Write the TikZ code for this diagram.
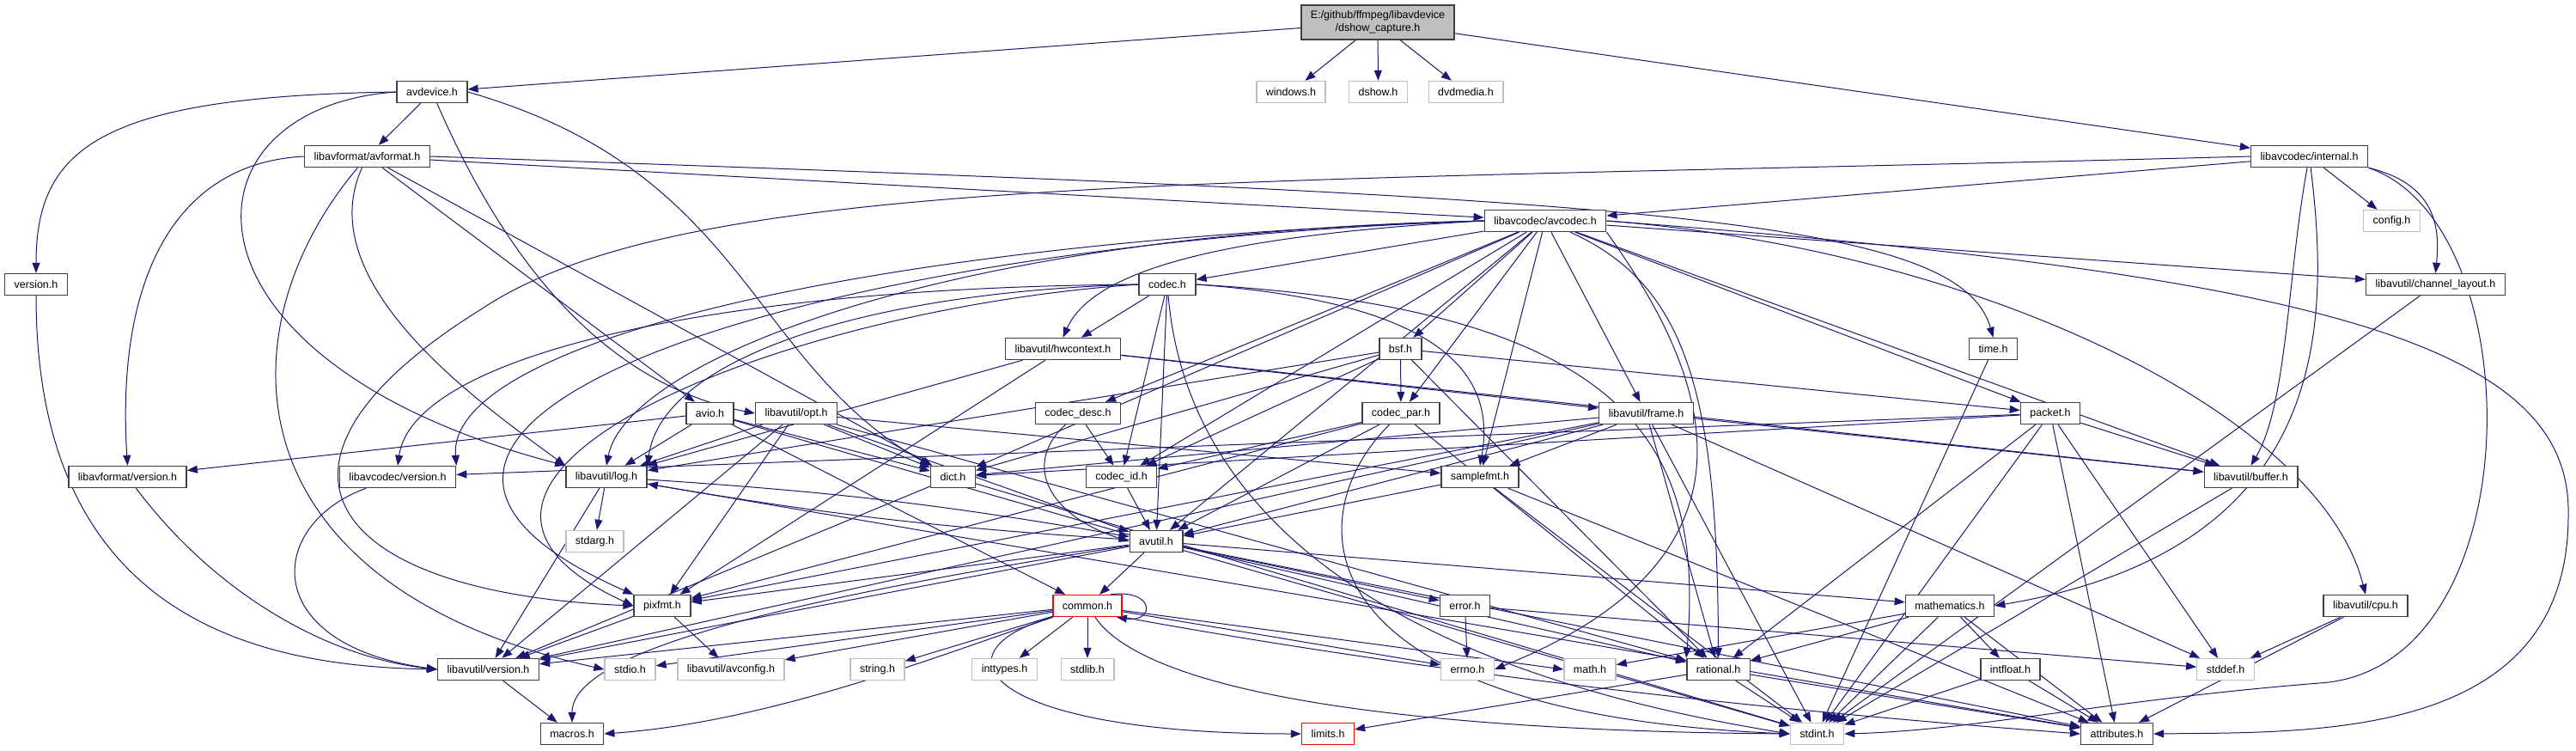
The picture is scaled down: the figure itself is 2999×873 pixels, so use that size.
\documentclass[tikz,border=0pt]{standalone}
\usepackage{fontspec}
\setmainfont{Liberation Sans}
\usetikzlibrary{arrows.meta,backgrounds}

\definecolor{enlace}{RGB}{25,25,112}
\definecolor{borde}{RGB}{64,64,64}
\definecolor{externo}{RGB}{191,191,191}

\tikzset{
    arch/.style={draw=borde, line width=1.4pt, fill=white, minimum height=25pt,
        inner xsep=11pt, inner ysep=1pt, font=\fontsize{12.5}{15}\selectfont},
    ext/.style={arch, draw=externo},
    trunc/.style={arch, draw=red},
    inc/.style={->, draw=enlace, line width=1pt},
    >={Triangle[length=12pt,width=9pt]}
}

\begin{document}
\begin{tikzpicture}[x=1pt,y=-1pt]
        \useasboundingbox (0,0) rectangle (2999,873);

        % Archivo de partida
        \node[arch, fill=externo, align=center, minimum height=40pt] (root) at (1604,26)
            {E:/github/ffmpeg/libavdevice\\/dshow\_capture.h};

        % Nivel 1 y 2
        \node[arch] (avdevice) at (503,107) {avdevice.h};
        \node[ext] (windows) at (1503,107) {windows.h};
        \node[ext] (dshow) at (1604.5,107) {dshow.h};
        \node[ext] (dvdmedia) at (1706.5,107) {dvdmedia.h};
        \node[arch] (avformat) at (427.5,182) {libavformat/avformat.h};
        \node[arch] (internal) at (2688.5,182) {libavcodec/internal.h};
        \node[arch] (avcodec) at (1799,257) {libavcodec/avcodec.h};
        \node[ext] (config) at (2784.5,257) {config.h};

        % Niveles intermedios
        \node[arch] (version) at (42,331) {version.h};
        \node[arch] (codec) at (1359,331) {codec.h};
        \node[arch] (chlayout) at (2835.5,331) {libavutil/channel\_layout.h};
        \node[arch] (hwcontext) at (1237.5,406) {libavutil/hwcontext.h};
        \node[arch] (bsf) at (1630.5,406) {bsf.h};
        \node[arch] (time) at (2320.5,406) {time.h};
        \node[arch] (avio) at (826.5,481) {avio.h};
        \node[arch] (opt) at (927,481) {libavutil/opt.h};
        \node[arch] (codecdesc) at (1255,481) {codec\_desc.h};
        \node[arch] (codecpar) at (1631,481) {codec\_par.h};
        \node[arch] (frame) at (1916.5,481) {libavutil/frame.h};
        \node[arch] (packet) at (2387,481) {packet.h};
        \node[arch] (lavfver) at (148.5,555) {libavformat/version.h};
        \node[arch] (lavcver) at (463,555) {libavcodec/version.h};
        \node[arch] (log) at (706,555) {libavutil/log.h};
        \node[arch] (dict) at (1109.5,555) {dict.h};
        \node[arch] (codecid) at (1305.5,555) {codec\_id.h};
        \node[arch] (samplefmt) at (1723,555) {samplefmt.h};
        \node[arch] (buffer) at (2620.5,555) {libavutil/buffer.h};
        \node[ext] (stdarg) at (692.5,630) {stdarg.h};
        \node[arch] (avutil) at (1346,630) {avutil.h};
        \node[arch] (pixfmt) at (771,705) {pixfmt.h};
        \node[trunc] (common) at (1266,705) {common.h};
        \node[arch] (error) at (1705.5,705) {error.h};
        \node[arch] (mathem) at (2270,705) {mathematics.h};
        \node[arch] (cpu) at (2754,705) {libavutil/cpu.h};

        % Niveles inferiores
        \node[arch] (lavuver) at (568.5,779) {libavutil/version.h};
        \node[ext] (stdio) at (733.5,779) {stdio.h};
        \node[ext] (avconfig) at (851,779) {libavutil/avconfig.h};
        \node[ext] (string) at (1021.5,779) {string.h};
        \node[ext] (inttypes) at (1169.5,779) {inttypes.h};
        \node[ext] (stdlib) at (1266,779) {stdlib.h};
        \node[ext] (errno) at (1708.5,779) {errno.h};
        \node[ext] (math) at (1851,779) {math.h};
        \node[arch] (rational) at (2000.5,779) {rational.h};
        \node[arch] (intfloat) at (2340.5,779) {intfloat.h};
        \node[ext] (stddef) at (2591,779) {stddef.h};
        \node[arch] (macros) at (666,854) {macros.h};
        \node[trunc] (limits) at (1546,854) {limits.h};
        \node[ext] (stdint) at (2115.5,854) {stdint.h};
        \node[arch] (attributes) at (2464.5,854) {attributes.h};

        \begin{scope}[on background layer]
        \fill[white] (0,0) rectangle (2999,873);

        % Desde el archivo de partida
        \draw[inc] (root) -- (avdevice);
        \draw[inc] (root) -- (windows);
        \draw[inc] (root) -- (dshow);
        \draw[inc] (root) -- (dvdmedia);
        \draw[inc] (root) -- (internal);

        % avdevice.h
        \draw[inc] (avdevice.west) .. controls (120,112) and (42,170) .. (version.north);
        \draw[inc] (avdevice.west) .. controls (200,125) and (190,420) .. (log.north west);
        \draw[inc] (avdevice) .. controls (600,330) and (720,450) .. (opt.west);
        \draw[inc] (avdevice.east) .. controls (870,200) and (870,420) .. (dict.north west);
        \draw[inc] (avdevice) -- (avformat);

        % avformat.h
        \draw[inc] (avformat.west) .. controls (200,190) and (135,330) .. (lavfver.north);
        \draw[inc] (avformat) .. controls (260,380) and (260,680) .. (stdio.west);
        \draw[inc] (avformat) -- (avcodec);
        \draw[inc] (avformat.east) .. controls (1900,230) and (2280,250) .. (time.north);
        \draw[inc] (avformat) -- (dict);
        \draw[inc] (avformat) .. controls (360,330) and (560,470) .. (log.north west);
        \draw[inc] (avformat) -- (avio);

        % internal.h
        \draw[inc] (internal) -- (avcodec);
        \draw[inc] (internal.west) .. controls (1400,215) and (800,200) .. (560,360)
            .. controls (270,540) and (380,690) .. (pixfmt.west);
        \draw[inc] (internal) -- (config);
        \draw[inc] (internal.south east) .. controls (2840,215) and (2840,270) .. (chlayout.north);
        \draw[inc] (internal) .. controls (2663,320) and (2663,470) .. (buffer.north);
        \draw[inc] (internal) .. controls (2713,380) and (2713,640) .. (mathem.east);
        \draw[inc] (internal.south east) .. controls (2950,260) and (2950,780) .. (2700,795)
            .. controls (2450,815) and (2300,850) .. (stdint.east);

        % avcodec.h
        \draw[inc] (avcodec.west) .. controls (1000,280) and (520,400) .. (lavcver.north east);
        \draw[inc] (avcodec.west) .. controls (1100,270) and (730,420) .. (log.north);
        \draw[inc] (avcodec.west) .. controls (900,285) and (300,500) .. (pixfmt.north west);
        \draw[inc] (avcodec.west) .. controls (1400,275) and (1270,320) .. (hwcontext.north);
        \draw[inc] (avcodec) -- (codec);
        \draw[inc] (avcodec) -- (codecdesc);
        \draw[inc] (avcodec) -- (dict);
        \draw[inc] (avcodec) -- (codecid);
        \draw[inc] (avcodec) -- (avutil);
        \draw[inc] (avcodec) -- (bsf);
        \draw[inc] (avcodec) -- (codecpar);
        \draw[inc] (avcodec) -- (samplefmt);
        \draw[inc] (avcodec.south east) .. controls (2000,450) and (2060,650) .. (errno.east);
        \draw[inc] (avcodec) .. controls (1960,330) and (2000,450) .. (rational.north);
        \draw[inc] (avcodec) -- (frame);
        \draw[inc] (avcodec) -- (packet);
        \draw[inc] (avcodec) -- (buffer);
        \draw[inc] (avcodec) -- (chlayout);
        \draw[inc] (avcodec.east) .. controls (2300,290) and (2700,480) .. (cpu.north);
        \draw[inc] (avcodec.east) .. controls (2700,320) and (2995,400) .. (2990,600)
            .. controls (2990,860) and (2700,852) .. (attributes.east);

        % codec.h
        \draw[inc] (codec) -- (hwcontext);
        \draw[inc] (codec.west) .. controls (1000,340) and (770,420) .. (log.north east);
        \draw[inc] (codec.west) .. controls (800,335) and (480,420) .. (lavcver.north);
        \draw[inc] (codec.west) .. controls (900,360) and (420,560) .. (pixfmt.west);
        \draw[inc] (codec) -- (codecid);
        \draw[inc] (codec) -- (avutil);
        \draw[inc] (codec.east) .. controls (1650,350) and (1745,420) .. (samplefmt.north);
        \draw[inc] (codec.east) .. controls (1900,360) and (1985,520) .. (rational.north west);
        \draw[inc] (codec) .. controls (1375,520) and (1500,760) .. (stdint.west);

        % hwcontext.h y bsf.h
        \draw[inc] (hwcontext) -- (buffer);
        \draw[inc] (hwcontext) -- (frame);
        \draw[inc] (hwcontext) -- (log);
        \draw[inc] (hwcontext) -- (pixfmt);
        \draw[inc] (bsf) -- (dict);
        \draw[inc] (bsf) -- (log);
        \draw[inc] (bsf) -- (rational);
        \draw[inc] (bsf) -- (codecid);
        \draw[inc] (bsf) -- (codecpar);
        \draw[inc] (bsf) -- (packet);

        % codec_desc.h, codec_id.h, codec_par.h
        \draw[inc] (codecdesc) -- (codecid);
        \draw[inc] (codecdesc) .. controls (1190,540) and (1220,600) .. (avutil.west);
        \draw[inc] (codecid) -- (avutil);
        \draw[inc] (codecpar) -- (codecid);
        \draw[inc] (codecpar) -- (avutil);
        \draw[inc] (codecpar) -- (pixfmt);
        \draw[inc] (codecpar) -- (rational);
        \draw[inc] (codecpar) .. controls (1510,600) and (1510,830) .. (stdint.west);

        % packet.h
        \draw[inc] (packet) -- (stddef);
        \draw[inc] (packet) -- (stdint);
        \draw[inc] (packet) -- (attributes);
        \draw[inc] (packet) -- (buffer);
        \draw[inc] (packet) -- (dict);
        \draw[inc] (packet) -- (rational);
        \draw[inc] (packet) -- (lavcver);

        % frame.h
        \draw[inc] (frame) -- (stddef);
        \draw[inc] (frame) -- (stdint);
        \draw[inc] (frame) -- (avutil);
        \draw[inc] (frame) -- (buffer);
        \draw[inc] (frame) -- (dict);
        \draw[inc] (frame) -- (rational);
        \draw[inc] (frame) -- (samplefmt);
        \draw[inc] (frame) -- (pixfmt);
        \draw[inc] (frame) -- (lavuver);

        % opt.h y avio.h
        \draw[inc] (opt) -- (rational);
        \draw[inc] (opt) -- (avutil);
        \draw[inc] (opt) -- (dict);
        \draw[inc] (opt) -- (log);
        \draw[inc] (opt) -- (pixfmt);
        \draw[inc] (opt) -- (samplefmt);
        \draw[inc] (opt) -- (lavuver);
        \draw[inc] (avio) -- (lavfver);
        \draw[inc] (avio) -- (log);
        \draw[inc] (avio) -- (dict);
        \draw[inc] (avio) -- (common);
        \draw[inc] (avio) -- (stdint);

        % log.h, dict.h, samplefmt.h
        \draw[inc] (log) -- (stdarg);
        \draw[inc] (log) to[bend left=3] (avutil);
        \draw[inc] (log) -- (attributes);
        \draw[inc] (log) -- (lavuver);
        \draw[inc] (dict) -- (stdint);
        \draw[inc] (dict) -- (lavuver);
        \draw[inc] (samplefmt) -- (stdint);
        \draw[inc] (samplefmt) -- (avutil);
        \draw[inc] (samplefmt) -- (attributes);

        % avutil.h
        \draw[inc] (avutil) to[bend left=3] (log);
        \draw[inc] (avutil) -- (attributes);
        \draw[inc] (avutil) .. controls (900,700) and (666,760) .. (macros.north);
        \draw[inc] (avutil) -- (lavuver);
        \draw[inc] (avutil) -- (common);
        \draw[inc] (avutil) -- (error);
        \draw[inc] (avutil) -- (rational);
        \draw[inc] (avutil) -- (mathem);
        \draw[inc] (avutil) -- (pixfmt);

        % common.h
        \draw[inc] (common) -- (lavuver);
        \draw[inc] (common) -- (stdio);
        \draw[inc] (common) -- (avconfig);
        \draw[inc] (common) -- (string);
        \draw[inc] (common) -- (inttypes);
        \draw[inc] (common) -- (stdlib);
        \draw[inc] (common) .. controls (1100,760) and (900,840) .. (macros.east);
        \draw[inc] (common.south west) .. controls (1080,760) and (1150,854) .. (limits.west);
        \draw[inc] (common) -- (errno);
        \draw[inc] (common) -- (math.west);
        \draw[inc] (common) .. controls (1330,800) and (1600,850) .. (stdint.west);
        \draw[inc] (common.south east) .. controls (1700,790) and (2100,830) .. (attributes.west);
        \draw[inc] ([xshift=-14pt]common.north east) .. controls (1345,685) and (1345,725)
            .. ([xshift=-7pt]common.south east);

        % Resto de cabeceras
        \draw[inc] (error) -- (errno);
        \draw[inc] (error) -- (stddef);
        \draw[inc] (mathem) -- (stdint);
        \draw[inc] (mathem) -- (math);
        \draw[inc] (mathem) -- (attributes);
        \draw[inc] (mathem) -- (rational);
        \draw[inc] (mathem) -- (intfloat);
        \draw[inc] (intfloat) -- (stdint);
        \draw[inc] (intfloat) -- (attributes);
        \draw[inc] (rational) -- (stdint);
        \draw[inc] (rational) -- (limits);
        \draw[inc] (rational) -- (attributes);
        \draw[inc] (pixfmt) -- (avconfig);
        \draw[inc] (pixfmt) -- (lavuver);
        \draw[inc] (lavuver) -- (macros);
        \draw[inc] (cpu) -- (stddef);
        \draw[inc] (cpu) -- (attributes);
        \draw[inc] (buffer) -- (stdint);
        \draw[inc] (chlayout) -- (stdint);
        \draw[inc] (time) -- (stdint);
        \draw[inc] (version.south) .. controls (42,720) and (300,775) .. (lavuver.west);
        \draw[inc] (lavfver) .. controls (250,690) and (380,765) .. (lavuver.west);
        \draw[inc] (lavcver) .. controls (310,610) and (300,750) .. (lavuver.west);
        \end{scope}
    \end{tikzpicture}
\end{document}
